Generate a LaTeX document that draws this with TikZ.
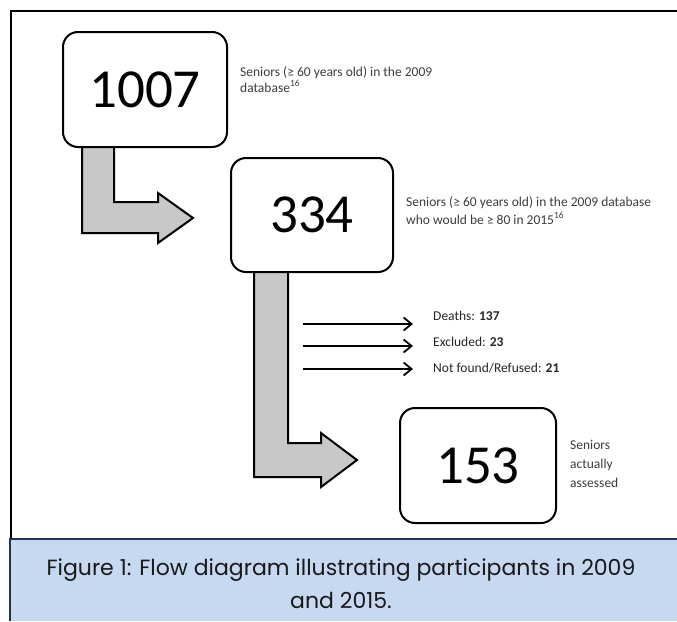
\documentclass[tikz,border=0pt]{standalone}
\usepackage{fontspec}
\setmainfont{Carlito}
\newfontfamily\capfont{Poppins}
\usetikzlibrary{arrows.meta}
\definecolor{capfill}{HTML}{C6D9F1}
\definecolor{capline}{HTML}{1F3452}
\definecolor{arrgray}{HTML}{C8C8C8}
\definecolor{labgray}{HTML}{3C3C3C}
\tikzset{
  numbox/.style={draw=black, line width=2pt, rounded corners=15pt, fill=white, inner sep=0pt, font=\fontsize{55}{60}\selectfont},
  bigarrow/.style={draw=black, line width=2pt, fill=arrgray, line join=miter},
  lab/.style={inner sep=0pt, align=left, text=labgray, anchor=north west},
  outlab/.style={inner sep=0pt, anchor=base west, text=black!85, font=\fontsize{13.5}{15}\selectfont},
  thinarrow/.style={line width=1.8pt, shorten >=20pt, -{Straight Barb[length=8pt,width=13pt,line width=1.8pt]}}
}
\begin{document}
\begin{tikzpicture}[x=1pt,y=-1pt]
\useasboundingbox (0,0) rectangle (677,621);
% frame
\draw[line width=2pt] (11,539) -- (11,11) -- (677,11);
% caption
\fill[capfill] (10,539) rectangle (677,621);
\draw[capline, line width=1.5pt] (10,621) -- (10,539) -- (677,539);
\node[font=\capfont\fontsize{22}{33}\selectfont, align=center, text=black!90] (cap) at (341,584) {Figure 1: Flow diagram illustrating participants in 2009\\and 2015.};
% thick arrows
\draw[bigarrow] (82,147) -- (82,233) -- (158,233) -- (158,243) -- (193,218) -- (158,193) -- (158,202) -- (114,202) -- (114,147);
\draw[bigarrow] (254,272) -- (254,477) -- (321,477) -- (321,487) -- (357,460) -- (321,433) -- (321,443) -- (288,443) -- (288,272);
% boxes
\node[numbox, minimum width=164pt, minimum height=115pt] (b1) at (145,89.5) {1007};
\node[numbox, minimum width=162pt, minimum height=114pt] (b2) at (312,215) {334};
\node[numbox, minimum width=156pt, minimum height=115pt] (b3) at (478,465.5) {153};
% labels
\node[lab, font=\fontsize{13.5}{16}\selectfont] (l1) at (240,66) {Seniors (≥ 60 years old) in the 2009\\database\textsuperscript{16}};
\node[lab, font=\fontsize{13.5}{18}\selectfont] (l2) at (406,196) {Seniors (≥ 60 years old) in the 2009 database\\who would be ≥ 80 in 2015\textsuperscript{16}};
\node[lab, font=\fontsize{13.5}{19}\selectfont] (l3) at (570,440) {Seniors\\actually\\assessed};
% outcome labels
\node[outlab] (d1) at (433,320) {Deaths: \textbf{137}};
\node[outlab] (d2) at (433,346) {Excluded: \textbf{23}};
\node[outlab] (d3) at (433,372) {Not found/Refused: \textbf{21}};
\coordinate (s1) at (303,324);
\coordinate (s2) at (303,346);
\coordinate (s3) at (303,369);
\draw[thinarrow] (s1) -- (s1 -| d1.west);
\draw[thinarrow] (s2) -- (s2 -| d2.west);
\draw[thinarrow] (s3) -- (s3 -| d3.west);
\end{tikzpicture}
\end{document}
